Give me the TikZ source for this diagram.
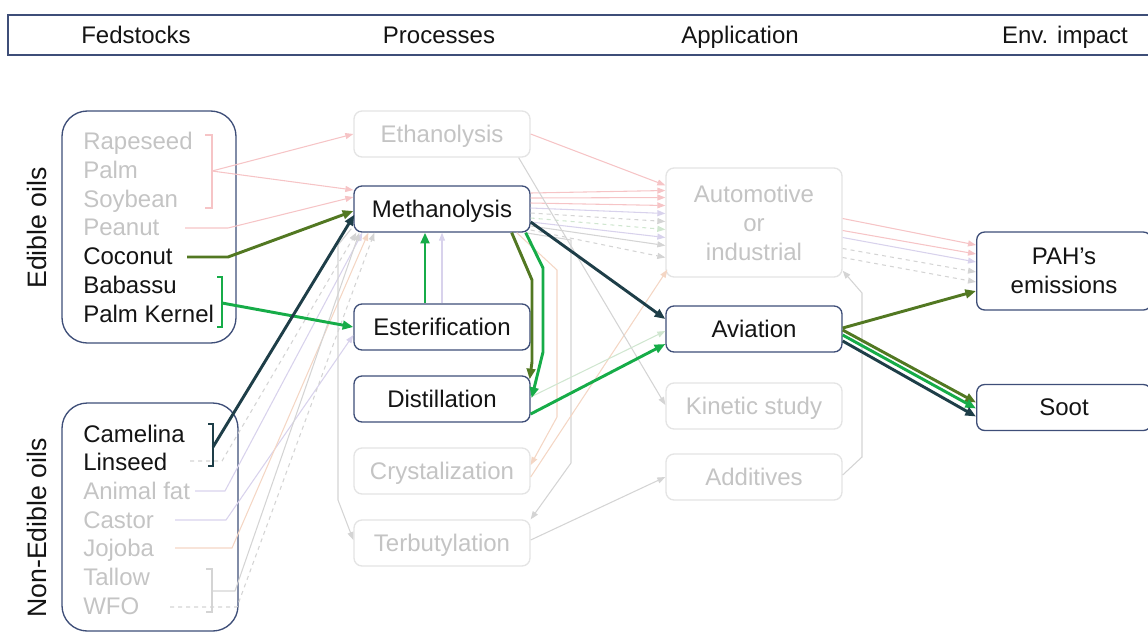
\documentclass[tikz,border=0pt]{standalone}
\usepackage{fontspec}
\setmainfont{Liberation Sans}
\usetikzlibrary{arrows.meta,calc}
\definecolor{bord}{RGB}{62,78,120}
\definecolor{txt}{RGB}{20,20,20}
\definecolor{oliv}{RGB}{82,120,34}
\definecolor{grn}{RGB}{22,172,72}
\definecolor{dteal}{RGB}{30,62,72}
\definecolor{fpink}{RGB}{246,196,198}
\definecolor{flav}{RGB}{216,210,236}
\definecolor{fgray}{RGB}{212,212,212}
\definecolor{fpeach}{RGB}{244,214,196}
\definecolor{fgreen}{RGB}{208,230,208}
\definecolor{ftext}{RGB}{196,196,196}
\definecolor{fbord}{RGB}{228,228,228}
\newcommand\fsz{\fontsize{18}{21.75}\selectfont}
\newcommand\rsz{\fontsize{20}{24}\selectfont}
\tikzset{
 box/.style={draw=bord, line width=1pt, rounded corners=6pt, fill=white, font=\fsz, text=txt, align=center, inner sep=0pt},
 onel/.style={text height=14pt, text depth=2pt},
 proc/.style={box, onel, minimum width=132pt, minimum height=34.5pt},
 faintbox/.style={draw=fbord, text=ftext},
 item/.style={anchor=base west, font=\fsz, text=txt, inner sep=0pt},
 fitem/.style={item, text=ftext},
 hdr/.style={anchor=base, font=\fsz, text=txt},
 grp/.style={draw=bord, line width=1pt, rounded corners=19pt},
 bold/.style={line width=2.2pt, -{Triangle[length=8pt,width=6.5pt]}},
 fl/.style={line width=0.8pt, -{Triangle[length=6pt,width=4.5pt]}},
 fline/.style={line width=0.8pt},
 brk/.style={line width=1.8pt},
}
\begin{document}
\begin{tikzpicture}[x=0.75pt,y=-0.75pt]
\useasboundingbox (0,0) rectangle (1148,633);
% header
\draw[draw=bord, line width=1pt] (8,15) rectangle (1152,55);
\node[hdr] (h1) at (136,43) {Fedstocks};
\node[hdr] (h2) at (439,43) {Processes};
\node[hdr] (h3) at (740,43) {Application};
\node[hdr] (h4) at (1065,43) {Env. impact};
% group boxes
\draw[grp] (62,111) rectangle (236,343);
\draw[grp] (62,403) rectangle (238,631);
\node[rotate=90, font=\rsz, text=txt] (ged) at (37,228) {Edible oils};
\node[rotate=90, font=\rsz, text=txt] (gne) at (37,528) {Non-Edible oils};
% feedstock items
\node[fitem] (rape) at (83,149) {Rapeseed};
\node[fitem] (palm) at (83,178) {Palm};
\node[fitem] (soy) at (83,207) {Soybean};
\node[fitem] (pea) at (83,235) {Peanut};
\node[item] (coco) at (83,264) {Coconut};
\node[item] (baba) at (83,293) {Babassu};
\node[item] (pker) at (83,322) {Palm Kernel};
\node[item] (cam) at (83,442) {Camelina};
\node[item] (lin) at (83,470) {Linseed};
\node[fitem] (afat) at (83,499) {Animal fat};
\node[fitem] (cas) at (83,528) {Castor};
\node[fitem] (joj) at (83,556) {Jojoba};
\node[fitem] (tal) at (83,585) {Tallow};
\node[fitem] (wfo) at (83,614) {WFO};
% process boxes
\node[proc, faintbox] (eth) at (442,134) {Ethanolysis};
\node[proc] (meth) at (442,209) {Methanolysis};
\node[proc] (est) at (442,327) {Esterification};
\node[proc] (dist) at (442,399) {Distillation};
\node[proc, faintbox] (crys) at (442,471) {Crystalization};
\node[proc, faintbox] (terb) at (442,543) {Terbutylation};
% application boxes
\node[box, faintbox, minimum width=132pt, minimum height=81.75pt] (auto) at (754,222.5) {Automotive\\or\\industrial};
\node[proc] (avi) at (754,329) {Aviation};
\node[proc, faintbox] (kin) at (754,406) {Kinetic study};
\node[proc, faintbox] (add) at (754,477) {Additives};
% env boxes
\node[box, minimum width=131pt, minimum height=58.5pt] (pah) at (1064,271) {PAH’s\\emissions};
\node[proc, minimum width=131pt] (soot) at (1064,407.5) {Soot};

% ---------- faint connectors ----------
\coordinate (rb) at (212,171);
\draw[fline, fpink] (205,135) -- (212,135) -- (212,208) -- (205,208);
\draw[fl, fpink] (rb) -- (eth.west);
\draw[fl, fpink] (rb) -- ($(meth.west)+(0,-19)$);
\coordinate (pn0) at (185,228); \coordinate (pn1) at (228,228);
\draw[fl, fpink] (pn0) -- (pn1) -- ($(meth.west)+(0,-12)$);
% non-edible faint lines
\coordinate (ln0) at (190,461); \coordinate (ln1) at (222,461);
\draw[fl, fgray, dashed] (ln0) -- (ln1) -- ($(meth.south west)+(3,0)$);
\coordinate (af0) at (195,491); \coordinate (af1) at (225,491);
\draw[fl, flav] (af0) -- (af1) -- ($(meth.south west)+(9,0)$);
\coordinate (cs0) at (175,520); \coordinate (cs1) at (226,520);
\draw[fl, flav] (cs0) -- (cs1) -- ($(est.west)+(0,8)$);
\coordinate (jj0) at (175,548); \coordinate (jj1) at (232,548);
\draw[fl, fpeach] (jj0) -- (jj1) -- ($(meth.south west)+(15,0)$);
\draw[fline, fgray] (206,569) -- (212,569) -- (212,612) -- (206,612);
\coordinate (tw0) at (212,591); \coordinate (tw1) at (235,591);
\draw[fl, fgray] (tw0) -- (tw1) -- ($(meth.south west)+(6,0)$);
\coordinate (wf0) at (170,607); \coordinate (wf1) at (237,607);
\draw[fl, fgray, dashed] (wf0) -- (wf1) -- ($(meth.south west)+(21,0)$);
% process -> application faint
\draw[fl, fpink] (eth.east) -- ($(auto.north west)+(0,18)$);
\draw[fl, fpink] ($(meth.east)+(0,-16)$) -- ($(auto.west)+(0,-32)$);
\draw[fl, fpink] ($(meth.east)+(0,-11)$) -- ($(auto.west)+(0,-25)$);
\draw[fl, fpink] ($(meth.east)+(0,-6)$) -- ($(auto.west)+(0,-17)$);
\draw[fl, flav] ($(meth.east)+(0,-1)$) -- ($(auto.west)+(0,-9)$);
\draw[fl, fgray, dashed] ($(meth.east)+(0,4)$) -- ($(auto.west)+(0,-1)$);
\draw[fl, fgreen, dashed] ($(meth.east)+(0,9)$) -- ($(auto.west)+(0,7)$);
\draw[fl, flav] ($(meth.east)+(0,13)$) -- ($(auto.west)+(0,15)$);
\draw[fl, fgray] ($(meth.east)+(0,17)$) -- ($(auto.west)+(0,23)$);
\draw[fl, fgray, dashed] ($(meth.east)+(0,21)$) -- ($(auto.west)+(0,35)$);
% application -> PAH faint
\draw[fl, fpink] ($(auto.east)+(0,-4)$) -- ($(pah.west)+(0,-26)$);
\draw[fl, fpink] ($(auto.east)+(0,8)$) -- ($(pah.west)+(0,-17)$);
\draw[fl, flav] ($(auto.east)+(0,15)$) -- ($(pah.west)+(0,-9)$);
\draw[fl, fgray, dashed] ($(auto.east)+(0,26)$) -- ($(pah.west)+(0,1)$);
\draw[fl, fgray, dashed] ($(auto.east)+(0,35)$) -- ($(pah.west)+(0,11)$);
% vertical faint links
\draw[fl, flav] (est.north) -- (meth.south);
\coordinate (v1a) at (571,240); \coordinate (v1b) at (571,463);
\draw[fl, fgray] ($(meth.south east)+(-6,0)$) -- (v1a) -- (v1b) -- (terb.north east);
\coordinate (v2a) at (557,270); \coordinate (v2b) at (557,417);
\draw[fl, fpeach] ($(meth.south east)+(-14,0)$) -- (v2a) -- (v2b) -- ($(crys.east)+(0,-6)$);
\coordinate (v3a) at (338,245); \coordinate (v3b) at (338,500);
\draw[fl, fgray] ($(meth.south west)+(-2,-4)$) -- (v3a) -- (v3b) -- ($(terb.west)+(0,-3)$);
\draw[fl, fpeach] ($(crys.east)+(0,6)$) -- ($(auto.south west)+(2,-8)$);
\draw[fl, fgray] ($(eth.south east)+(-12,0)$) -- ($(kin.west)+(0,-1)$);
\draw[fl, fgreen] ($(dist.east)+(0,-2)$) -- ($(avi.west)+(0,2)$);
\draw[fl, fgray] ($(terb.east)+(0,-3)$) -- (add.west);
\coordinate (ad1) at (862,457); \coordinate (ad2) at (862,293);
\draw[fl, fgray] ($(add.east)+(0,-2)$) -- (ad1) -- (ad2) -- ($(auto.south east)+(0,-7)$);

% ---------- bold connectors ----------
\coordinate (cc0) at (187,257); \coordinate (cc1) at (228,257);
\draw[bold, oliv] (cc0) -- (cc1) -- ($(meth.west)+(0,2)$);
\draw[brk, grn] (217,277) -- (222,277) -- (222,327) -- (217,327);
\coordinate (pk) at (222,303);
\draw[bold, grn] (pk) -- (est.west);
\draw[brk, dteal] (208,424) -- (213,424) -- (213,466) -- (208,466);
\coordinate (cm) at (213,447);
\draw[bold, dteal] (cm) -- ($(meth.south west)+(1,-18)$);
\draw[bold, grn] ($(est.north)+(-17,0)$) -- ($(meth.south)+(-17,0)$);
\coordinate (o1) at (532,280); \coordinate (o2) at (532,362);
\draw[bold, oliv] ($(meth.south east)+(-19,0)$) -- (o1) -- (o2) -- ($(dist.north east)+(-1,4)$);
\coordinate (g1) at (543,268); \coordinate (g2) at (543,352);
\draw[bold, grn] ($(meth.south east)+(-5,0)$) -- (g1) -- (g2) -- ($(dist.east)+(1,-1)$);
\draw[bold, dteal] ($(meth.east)+(0,13)$) -- ($(avi.west)+(0,-10)$);
\draw[bold, grn] ($(dist.east)+(0,15)$) -- ($(avi.west)+(0,15)$);
\draw[bold, oliv] ($(avi.east)+(0,-1)$) -- ($(pah.west)+(0,20)$);
\draw[bold, oliv] ($(avi.east)+(0,1)$) -- ($(soot.west)+(0,-5)$);
\draw[bold, grn] ($(avi.east)+(0,6)$) -- ($(soot.west)+(0,1)$);
\draw[bold, dteal] ($(avi.east)+(0,12)$) -- ($(soot.west)+(0,9)$);
\end{tikzpicture}
\end{document}
